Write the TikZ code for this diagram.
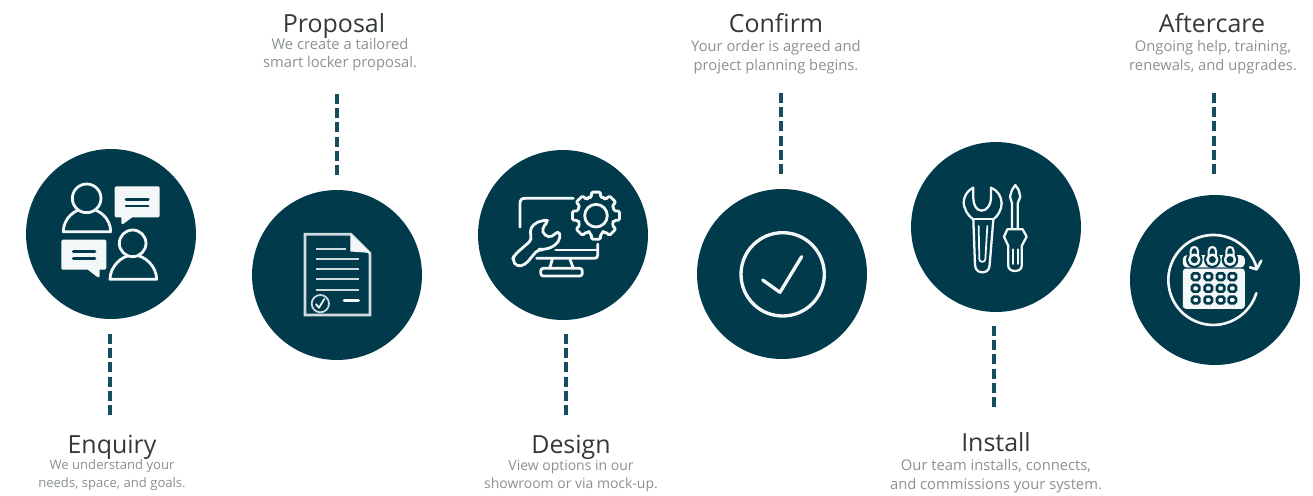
\documentclass[tikz,border=0pt]{standalone}
\usepackage{fontspec}
\setmainfont{Open Sans}
\definecolor{teal}{HTML}{003A4B}
\definecolor{dashc}{HTML}{174F61}
\definecolor{titlec}{HTML}{33383B}
\definecolor{bodyc}{HTML}{8A9094}
\definecolor{iconc}{HTML}{F4F7F8}
\tikzset{
  stepcircle/.style={circle,fill=teal,draw=none,minimum size=3.4cm,inner sep=0pt,outer sep=0pt},
  dashline/.style={draw=dashc,line width=1.8pt,dash pattern=on 5.7pt off 2.4pt},
  titletext/.style={text=titlec,font=\fontsize{14.2}{17}\selectfont,anchor=base,inner sep=0pt},
  bodytext/.style={text=bodyc,font=\fontsize{8.4}{10}\selectfont,align=center,anchor=center,inner sep=0pt},
  widebody/.style={bodytext,font=\fontsize{8.4}{10.7}\selectfont},
  smallbody/.style={bodytext,font=\fontsize{7.45}{10}\selectfont},
  midbody/.style={bodytext,font=\fontsize{7.95}{10}\selectfont},
  ic/.style={draw=iconc,line width=1.6pt,line join=round,line cap=round},
  icfill/.style={ic,fill=teal},
  icwhite/.style={ic,fill=iconc},
  inkdark/.style={draw=teal,line width=1.5pt,line cap=round},
  iconat/.style={shift={(#1)},scale=0.3333}
}
\begin{document}
\begin{tikzpicture}[x=0.02cm,y=-0.02cm]
\useasboundingbox (0,0) rectangle (1313,495);
% circles
\node[stepcircle] (enquiry) at (111,234) {};
\node[stepcircle] (proposal) at (337,275) {};
\node[stepcircle] (design) at (563,235) {};
\node[stepcircle] (confirm) at (782,274) {};
\node[stepcircle] (install) at (996,227) {};
\node[stepcircle] (aftercare) at (1215,280) {};
% dashed connectors
\coordinate (enquiryEnd) at (110,417);
\coordinate (proposalEnd) at (337,90);
\coordinate (designEnd) at (566,417);
\coordinate (confirmEnd) at (781,90);
\coordinate (installEnd) at (994,409);
\coordinate (aftercareEnd) at (1214,92);
\draw[dashline,shorten <=0.3cm] (enquiry.south -| enquiryEnd) -- (enquiryEnd);
\draw[dashline,shorten <=0.3cm] (proposal.north -| proposalEnd) -- (proposalEnd);
\draw[dashline,shorten <=0.28cm] (design.south -| designEnd) -- (designEnd);
\draw[dashline,shorten <=0.3cm] (confirm.north -| confirmEnd) -- (confirmEnd);
\draw[dashline,shorten <=0.28cm] (install.south -| installEnd) -- (installEnd);
\draw[dashline,shorten <=0.42cm] (aftercare.north -| aftercareEnd) -- (aftercareEnd);
% labels
\node[titletext] (tEnquiry) at (112,453) {Enquiry};
\node[smallbody] (bEnquiry) at (112,475) {We understand your\\needs, space, and goals.};
\node[titletext] (tProposal) at (334,32) {Proposal};
\node[bodytext] (bProposal) at (340,54.5) {We create a tailored\\smart locker proposal.};
\node[titletext] (tDesign) at (571,453) {Design};
\node[midbody] (bDesign) at (571,476) {View options in our\\showroom or via mock-up.};
\node[titletext] (tConfirm) at (776,32) {Confirm};
\node[widebody] (bConfirm) at (776,57) {Your order is agreed and\\project planning begins.};
\node[titletext] (tInstall) at (996,451) {Install};
\node[widebody] (bInstall) at (996,476) {Our team installs, connects,\\and commissions your system.};
\node[titletext] (tAftercare) at (1212,32) {Aftercare};
\node[widebody] (bAftercare) at (1213,57) {Ongoing help, training,\\renewals, and upgrades.};
% Enquiry icon
\begin{scope}[iconat={20,140}]
  \draw[ic] (130,275) .. controls (130,235) and (165,205) .. (200,205) .. controls (237,205) and (272,235) .. (272,275) -- cycle;
  \draw[icfill] (200,175) circle (43);
  \draw[icwhite] (288,143) -- (415,143) -- (415,228) -- (335,228) -- (308,248) -- (308,228) -- (288,228) -- cycle;
  \draw[inkdark] (318,178) -- (385,178) (318,198) -- (385,198);
  \draw[icwhite] (128,303) -- (255,303) -- (255,385) -- (235,385) -- (235,408) -- (205,385) -- (128,385) -- cycle;
  \draw[inkdark] (160,335) -- (225,335) (160,355) -- (225,355);
  \draw[ic] (270,418) .. controls (270,380) and (305,345) .. (340,345) .. controls (375,345) and (410,380) .. (410,418) -- cycle;
  \draw[icfill] (338,310) circle (40);
\end{scope}
% Proposal icon
\begin{scope}[iconat={250,190}]
  \draw[ic,draw=iconc!85!teal,miter limit=4,line cap=butt,line join=miter] (303,133) -- (165,133) -- (165,375) -- (360,375) -- (360,190) -- cycle;
  \draw[icwhite,line width=0.6pt] (303,136) -- (358,187) -- (303,183) -- cycle;
  \draw[ic,draw=iconc!85!teal,line width=1.3pt,line cap=butt] (197,176) -- (288,176) (197,207) -- (327,207) (197,238) -- (327,238) (197,268) -- (327,268) (197,300) -- (327,300);
  \draw[ic,line width=2pt] (283,331) -- (325,331);
  \draw[ic,draw=iconc!85!teal,line width=1pt] (211,341) circle (26);
  \draw[ic,line width=1pt] (198,343) -- (207,353) -- (223,327);
\end{scope}
% Design icon
\begin{scope}[iconat={475,150}]
  \draw[ic] (295,145) -- (150,145) .. controls (140,145) and (135,150) .. (135,160) -- (135,232);
  \draw[ic] (368,282) -- (368,315) .. controls (368,322) and (365,325) .. (358,325) -- (185,325);
  \draw[ic] (242,300) -- (366,300);
  \draw[ic] (232,328) -- (224,355) (285,328) -- (295,355);
  \draw[ic,rounded corners=1.5pt] (197,355) rectangle (322,378);
  \draw[icfill,rounded corners=2.5pt] (118,315) -- (172,268) -- (163,245) -- (175,222) -- (205,210) -- (222,212) -- (200,235) -- (208,258) -- (232,262) -- (250,240) -- (258,262) -- (240,288) -- (205,300) -- (190,297) -- (150,345) -- (125,350) -- (112,330) -- cycle;
  % gear
  \draw[ic,rounded corners=0.8pt] (363,197) ++(-22.5:56)
    \foreach \a in {0,45,...,315} {
      -- ++(0,0) -- ([shift={(363,197)}]\a-14:57) -- ([shift={(363,197)}]\a-11:72) -- ([shift={(363,197)}]\a+11:72) -- ([shift={(363,197)}]\a+14:57) -- ([shift={(363,197)}]\a+22.5:56)
    } -- cycle;
  \draw[ic] (363,197) circle (34);
\end{scope}
% Confirm icon
\begin{scope}[iconat={700,210}]
  \draw[ic,line width=1.9pt] (248,193) circle (125);
  \draw[ic,line width=1.9pt] (188,210) -- (240,247) -- (305,140);
\end{scope}
% Install icon
\begin{scope}[iconat={910,140}]
  \draw[ic,line width=1.3pt] (190,143) .. controls (165,155) and (155,185) .. (165,205) .. controls (170,222) and (182,232) .. (190,238) -- (195,375) .. controls (196,392) and (208,397) .. (216,397) .. controls (228,397) and (238,392) .. (239,375) -- (250,238) .. controls (262,230) and (275,210) .. (275,190) .. controls (275,170) and (262,150) .. (243,143) -- (243,175) .. controls (243,195) and (230,212) .. (215,212) .. controls (200,212) and (190,195) .. (190,175) -- cycle;
  \draw[ic,line width=1pt] (206,258) -- (208,358) .. controls (208,368) and (226,368) .. (226,358) -- (232,258);
  \draw[ic,line width=1.3pt] (190,238) -- (250,238);
  \draw[ic,line width=1.3pt] (306,266) -- (306,190) -- (300,170) -- (306,150) -- (316,135) -- (326,150) -- (331,170) -- (323,190) -- (323,266);
  \draw[ic,line width=1.3pt] (292,268) -- (338,268) -- (350,290) -- (335,318) -- (335,378) .. controls (335,390) and (322,393) .. (315,393) .. controls (305,393) and (295,388) .. (295,378) -- (295,318) -- (282,290) -- cycle;
  \draw[ic,line width=1pt] (309,328) -- (309,372) (323,328) -- (323,372);
\end{scope}
% Aftercare icon
\begin{scope}[iconat={1125,190}]
  \draw[ic,line width=1.5pt] (395.4,235) arc[start angle=-15,end angle=-343,radius=135];
  \draw[ic,line width=1.5pt] (375,232) -- (395,238) -- (409,212);
  \draw[icwhite,line width=0.5pt,rounded corners=1.5pt] (175,355) rectangle (358,237);
  \draw[icwhite,line width=0.5pt,rounded corners=2pt] (175,231) -- (175,197) -- (358,197) -- (358,231) -- cycle;
  \foreach \cx in {208,262,315} {
    \fill[teal] (\cx,209) circle (25);
    \draw[ic,fill=teal,line width=1.2pt] (\cx-11,183) .. controls (\cx-11,167) and (\cx+11,167) .. (\cx+11,183) -- (\cx+11,196) -- (\cx-11,196) -- cycle;
    \draw[ic,fill=teal,line width=1.4pt] (\cx,209) circle (15);
  }
  \foreach \cx in {212,250,287,322} \foreach \cy in {260,295,330}
    \draw[draw=teal,fill=iconc,line width=1.5pt,rounded corners=1pt] (\cx-11,\cy-10) rectangle (\cx+11,\cy+10);
\end{scope}
\end{tikzpicture}
\end{document}
